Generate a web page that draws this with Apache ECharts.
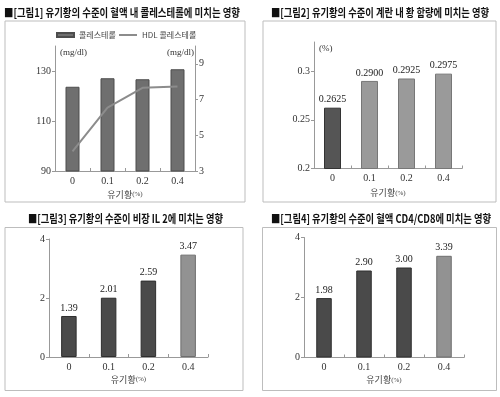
<!DOCTYPE html>
<html>
<head>
<meta charset="utf-8">
<script src="https://cdn.jsdelivr.net/npm/echarts@6/dist/echarts.min.js"></script>
<style>
  html, body { margin: 0; padding: 0; background: #fff; }
  #chart { width: 500px; height: 397px; }
</style>
</head>
<body>
<div id="chart"></div>
<script>
  // 데이터
  const categories = ['0', '0.1', '0.2', '0.4'];
  const cholesterol = [123.7, 127.1, 126.7, 130.7];   // 콜레스테롤 (mg/dl)
  const hdl = [4.1, 6.55, 7.66, 7.73];                 // HDL 콜레스테롤 (mg/dl)
  const eggSulfur = [0.2625, 0.2900, 0.2925, 0.2975];  // 계란 내 황 함량 (%)
  const il2 = [1.39, 2.01, 2.59, 3.47];                // 비장 IL 2
  const cd4cd8 = [1.98, 2.90, 3.00, 3.39];             // 혈액 CD4/CD8
  const titles = [
    '■[그림1] 유기황의 수준이 혈액 내 콜레스테롤에 미치는 영향',
    '■[그림2] 유기황의 수준이 계란 내 황 함량에 미치는 영향',
    '■[그림3] 유기황의 수준이 비장 IL 2에 미치는 영향',
    '■[그림4] 유기황의 수준이 혈액 CD4/CD8에 미치는 영향'
  ];

  const SERIF = '"Liberation Serif", "DejaVu Serif", serif';
  const KR = '"Noto Sans CJK KR", sans-serif';
  const titleFont = 'bold 11.5px "Noto Sans CJK KR"';

  // 제목 폭 맞추기 (가로로 좁은 글꼴 흉내)
  const ctx = document.createElement('canvas').getContext('2d');
  ctx.font = titleFont;
  function titleText(text, x0, x1, yc) {
    const w = ctx.measureText(text).width;
    return {
      type: 'text', x: x0, y: yc, scaleX: (x1 - x0) / w, scaleY: 1,
      style: { text: text, font: titleFont, fill: '#111', textAlign: 'left', textVerticalAlign: 'middle' }
    };
  }
  function box(x, y, w, h) {
    return { type: 'rect', shape: { x: x, y: y, width: w, height: h }, style: { fill: 'none', stroke: '#bdbdbd', lineWidth: 1 } };
  }
  function unitText(text, x, y) {
    return { type: 'text', x: x, y: y, style: { text: text, font: '9px ' + SERIF, fill: '#333', textAlign: 'left', textVerticalAlign: 'middle' } };
  }

  const axisLine = { show: true, lineStyle: { color: '#999', width: 1 } };
  const axisTick = { show: true, length: 3, lineStyle: { color: '#999' } };
  const tickLabel = { color: '#333', fontFamily: SERIF, fontSize: 10 };

  function xAxis(grid, gap) {
    return {
      type: 'category', gridIndex: grid, data: categories,
      axisLine: axisLine, axisTick: { show: true, length: 3, inside: true, lineStyle: { color: '#999' } },
      axisLabel: Object.assign({ margin: 5 }, tickLabel),
      name: '{a|유기황}{b|(%)}', nameLocation: 'middle', nameGap: gap,
      nameTextStyle: {
        rich: {
          a: { fontFamily: KR, fontSize: 9, color: '#444' },
          b: { fontFamily: SERIF, fontSize: 7, color: '#444' }
        }
      }
    };
  }
  function yAxis(grid, min, max, interval, pos, showMax, decimals) {
    return {
      type: 'value', gridIndex: grid, min: min, max: max, interval: interval, position: pos,
      axisLine: axisLine, axisTick: axisTick, splitLine: { show: false },
      axisLabel: Object.assign({
        margin: 4, showMaxLabel: showMax,
        formatter: function (v) { return decimals ? +v.toFixed(decimals) + '' : v; }
      }, tickLabel)
    };
  }
  function valueLabel(decimals) {
    return {
      show: true, position: 'top', distance: 3, color: '#222', fontFamily: SERIF, fontSize: 10,
      formatter: function (p) { return p.value.toFixed(decimals); }
    };
  }
  function barColors(values, first, rest, lastOnly) {
    return values.map(function (v, i) {
      const isLight = lastOnly ? i === values.length - 1 : i > 0;
      const c = isLight ? rest : first;
      return { value: v, itemStyle: { color: c[0], borderColor: c[1], borderWidth: 1 } };
    });
  }

  const dark = ['#4a4a4a', '#2e2e2e'];
  const light = ['#929292', '#6e6e6e'];
  const legendText = { fontFamily: KR, fontSize: 8, color: '#444' };

  const option = {
    backgroundColor: '#fff',
    animation: false,
    graphic: [
      box(5, 21, 240, 181), box(263, 21, 233, 181),
      box(5, 227.5, 238, 163), box(262.5, 227.5, 234, 163),
      titleText(titles[0], 4, 240, 12.7),
      titleText(titles[1], 271, 489, 12.7),
      titleText(titles[2], 28, 223, 218.7),
      titleText(titles[3], 271, 491, 218.7),
      unitText('(mg/dl)', 60, 53), unitText('(mg/dl)', 167, 53),
      unitText('(%)', 319, 49)
    ],
    legend: [
      {
        left: 51, top: 26, itemWidth: 17, itemHeight: 4, textStyle: legendText,
        data: [{ name: '콜레스테롤', icon: 'rect' }]
      },
      {
        left: 114, top: 26, itemWidth: 18, itemHeight: 2, textStyle: legendText,
        data: [{ name: 'HDL 콜레스테롤', icon: 'rect' }]
      }
    ],
    grid: [
      { left: 55, top: 46, width: 140, height: 125 },
      { left: 314, top: 42, width: 148, height: 126.5 },
      { left: 49, top: 239, width: 159, height: 118 },
      { left: 304, top: 237.5, width: 160, height: 120 }
    ],
    xAxis: [xAxis(0, 19), xAxis(1, 20), xAxis(2, 18), xAxis(3, 18)],
    yAxis: [
      yAxis(0, 90, 140, 20, 'left', false),
      yAxis(0, 3, 10, 2, 'right', false),
      yAxis(1, 0.2, 0.33, 0.05, 'left', false, 2),
      yAxis(2, 0, 4, 2, 'left', true),
      yAxis(3, 0, 4, 2, 'left', true)
    ],
    series: [
      {
        name: '콜레스테롤', type: 'bar', xAxisIndex: 0, yAxisIndex: 0, barWidth: 14, data: cholesterol,
        itemStyle: { color: '#6f6f6f', borderColor: '#4d4d4d', borderWidth: 1 }
      },
      {
        name: 'HDL 콜레스테롤', type: 'line', xAxisIndex: 0, yAxisIndex: 1, data: hdl,
        symbol: 'none', lineStyle: { color: '#8c8c8c', width: 2 }, itemStyle: { color: '#8c8c8c' }
      },
      {
        type: 'bar', xAxisIndex: 1, yAxisIndex: 2, barWidth: 17,
        data: barColors(eggSulfur, ['#555', '#333'], ['#9a9a9a', '#777'], false),
        label: valueLabel(4)
      },
      {
        type: 'bar', xAxisIndex: 2, yAxisIndex: 3, barWidth: 15.5,
        data: barColors(il2, dark, light, true),
        label: valueLabel(2)
      },
      {
        type: 'bar', xAxisIndex: 3, yAxisIndex: 4, barWidth: 15.5,
        data: barColors(cd4cd8, dark, light, true),
        label: valueLabel(2)
      }
    ]
  };

  const chartObj = echarts.init(document.getElementById('chart'));
  chartObj.setOption(option);
</script>
</body>
</html>
